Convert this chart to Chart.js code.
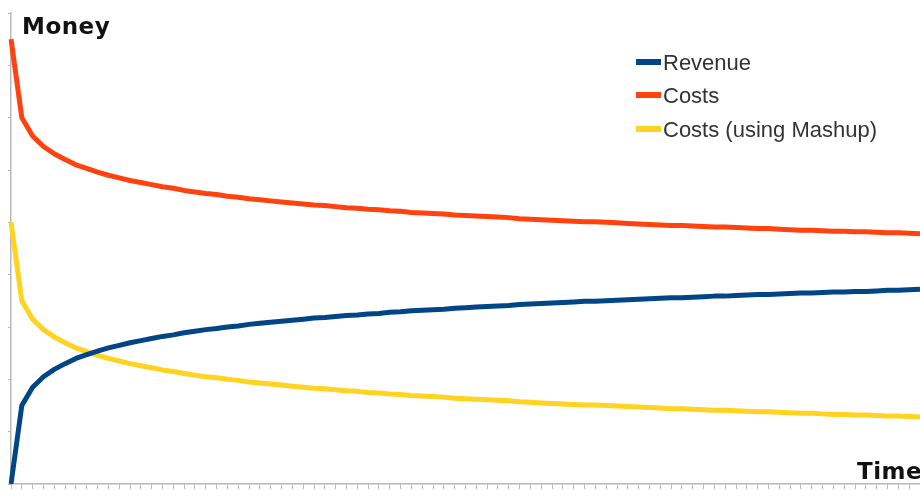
<!DOCTYPE html>
<html>
<head>
<meta charset="utf-8">
<script src="https://cdn.jsdelivr.net/npm/chart.js@4/dist/chart.umd.min.js"></script>
<style>
  html, body { margin: 0; padding: 0; background: #fff; }
  #wrap { position: relative; width: 920px; height: 490px; overflow: hidden; }
  canvas { position: absolute; left: 0; top: 0; }
  .axt { position: absolute; font-family: "DejaVu Sans", sans-serif; font-weight: bold; font-size: 23px; color: #111; letter-spacing: 0.5px; line-height: 1; }
  #legend { position: absolute; left: 636px; top: 46px; font-family: "Liberation Sans", Arial, sans-serif; font-size: 22px; color: #333; }
  .li { display: flex; align-items: center; height: 33.5px; }
  .sw { width: 25px; height: 6px; margin-right: 2px; margin-top: -2px; }
</style>
</head>
<body>
<div id="wrap">
  <canvas id="c" width="920" height="490"></canvas>
  <div class="axt" style="left:22px; top:15px;">Money</div>
  <div class="axt" style="left:857px; top:460px;">Time</div>
  <div id="legend"></div>
</div>
<script>
const timeSteps = Array.from({length: 85}, (_, i) => i);
const seriesNames = ["Revenue", "Costs", "Costs (using Mashup)"];
const seriesColors = ["#004586", "#ff420e", "#ffd320"];
const revenue = [0,1.50,1.85,2.05,2.19,2.30,2.40,2.47,2.54,2.60,2.65,2.70,2.74,2.78,2.82,2.85,2.89,2.92,2.95,2.97,3.00,3.02,3.05,3.07,3.09,3.11,3.13,3.15,3.17,3.18,3.20,3.22,3.23,3.25,3.26,3.28,3.29,3.31,3.32,3.33,3.34,3.36,3.37,3.38,3.39,3.40,3.41,3.43,3.44,3.45,3.46,3.47,3.48,3.49,3.49,3.50,3.51,3.52,3.53,3.54,3.55,3.56,3.56,3.57,3.58,3.59,3.59,3.60,3.61,3.62,3.62,3.63,3.64,3.65,3.65,3.66,3.67,3.67,3.68,3.68,3.69,3.70,3.70,3.71,3.72];
const costs = [8.50,7.00,6.65,6.45,6.31,6.20,6.10,6.03,5.96,5.90,5.85,5.80,5.76,5.72,5.68,5.65,5.61,5.58,5.55,5.53,5.50,5.48,5.45,5.43,5.41,5.39,5.37,5.35,5.33,5.32,5.30,5.28,5.27,5.25,5.24,5.22,5.21,5.19,5.18,5.17,5.16,5.14,5.13,5.12,5.11,5.10,5.09,5.07,5.06,5.05,5.04,5.03,5.02,5.01,5.01,5.00,4.99,4.98,4.97,4.96,4.95,4.94,4.94,4.93,4.92,4.91,4.91,4.90,4.89,4.88,4.88,4.87,4.86,4.85,4.85,4.84,4.83,4.83,4.82,4.82,4.81,4.80,4.80,4.79,4.78];
const costsMashup = [5.00,3.50,3.15,2.95,2.81,2.70,2.60,2.53,2.46,2.40,2.35,2.30,2.26,2.22,2.18,2.15,2.11,2.08,2.05,2.03,2.00,1.98,1.95,1.93,1.91,1.89,1.87,1.85,1.83,1.82,1.80,1.78,1.77,1.75,1.74,1.72,1.71,1.69,1.68,1.67,1.66,1.64,1.63,1.62,1.61,1.60,1.59,1.57,1.56,1.55,1.54,1.53,1.52,1.51,1.51,1.50,1.49,1.48,1.47,1.46,1.45,1.44,1.44,1.43,1.42,1.41,1.41,1.40,1.39,1.38,1.38,1.37,1.36,1.35,1.35,1.34,1.33,1.33,1.32,1.32,1.31,1.30,1.30,1.29,1.28];
const yTicks = [0,1,2,3,4,5,6,7,8,9];

const allSeries = [revenue, costs, costsMashup];

// HTML legend
const legend = document.getElementById('legend');
seriesNames.forEach((n, i) => {
  const row = document.createElement('div'); row.className = 'li';
  const sw = document.createElement('div'); sw.className = 'sw'; sw.style.background = seriesColors[i];
  const t = document.createElement('span'); t.textContent = n;
  row.appendChild(sw); row.appendChild(t); legend.appendChild(row);
});

new Chart(document.getElementById('c'), {
  type: 'line',
  data: {
    labels: timeSteps,
    datasets: allSeries.map((d, i) => ({
      label: seriesNames[i],
      data: d,
      borderColor: seriesColors[i],
      backgroundColor: seriesColors[i],
      borderWidth: 5,
      pointRadius: 0,
      tension: 0,
      borderCapStyle: 'butt',
      borderJoinStyle: 'round'
    }))
  },
  options: {
    responsive: false,
    animation: false,
    layout: { padding: { top: 13, left: 0, right: 0, bottom: 0 } },
    plugins: { legend: { display: false }, tooltip: { enabled: false } },
    scales: {
      x: {
        type: 'category',
        offset: false,
        afterFit: s => { s.height = 6; },
        ticks: { display: false, autoSkip: false },
        grid: { drawOnChartArea: false, drawTicks: true, tickLength: 5, color: '#b8b8b8', lineWidth: 1 },
        border: { display: true, color: '#b8b8b8', width: 1.5 }
      },
      y: {
        min: 0, max: 9,
        afterFit: s => { s.width = 11; },
        afterBuildTicks: s => { s.ticks = yTicks.map(v => ({ value: v })); },
        ticks: { display: false },
        grid: { drawOnChartArea: false, drawTicks: true, tickLength: 3, color: '#b8b8b8', lineWidth: 1 },
        border: { display: true, color: '#b8b8b8', width: 1.5 }
      }
    }
  }
});
</script>
</body>
</html>
